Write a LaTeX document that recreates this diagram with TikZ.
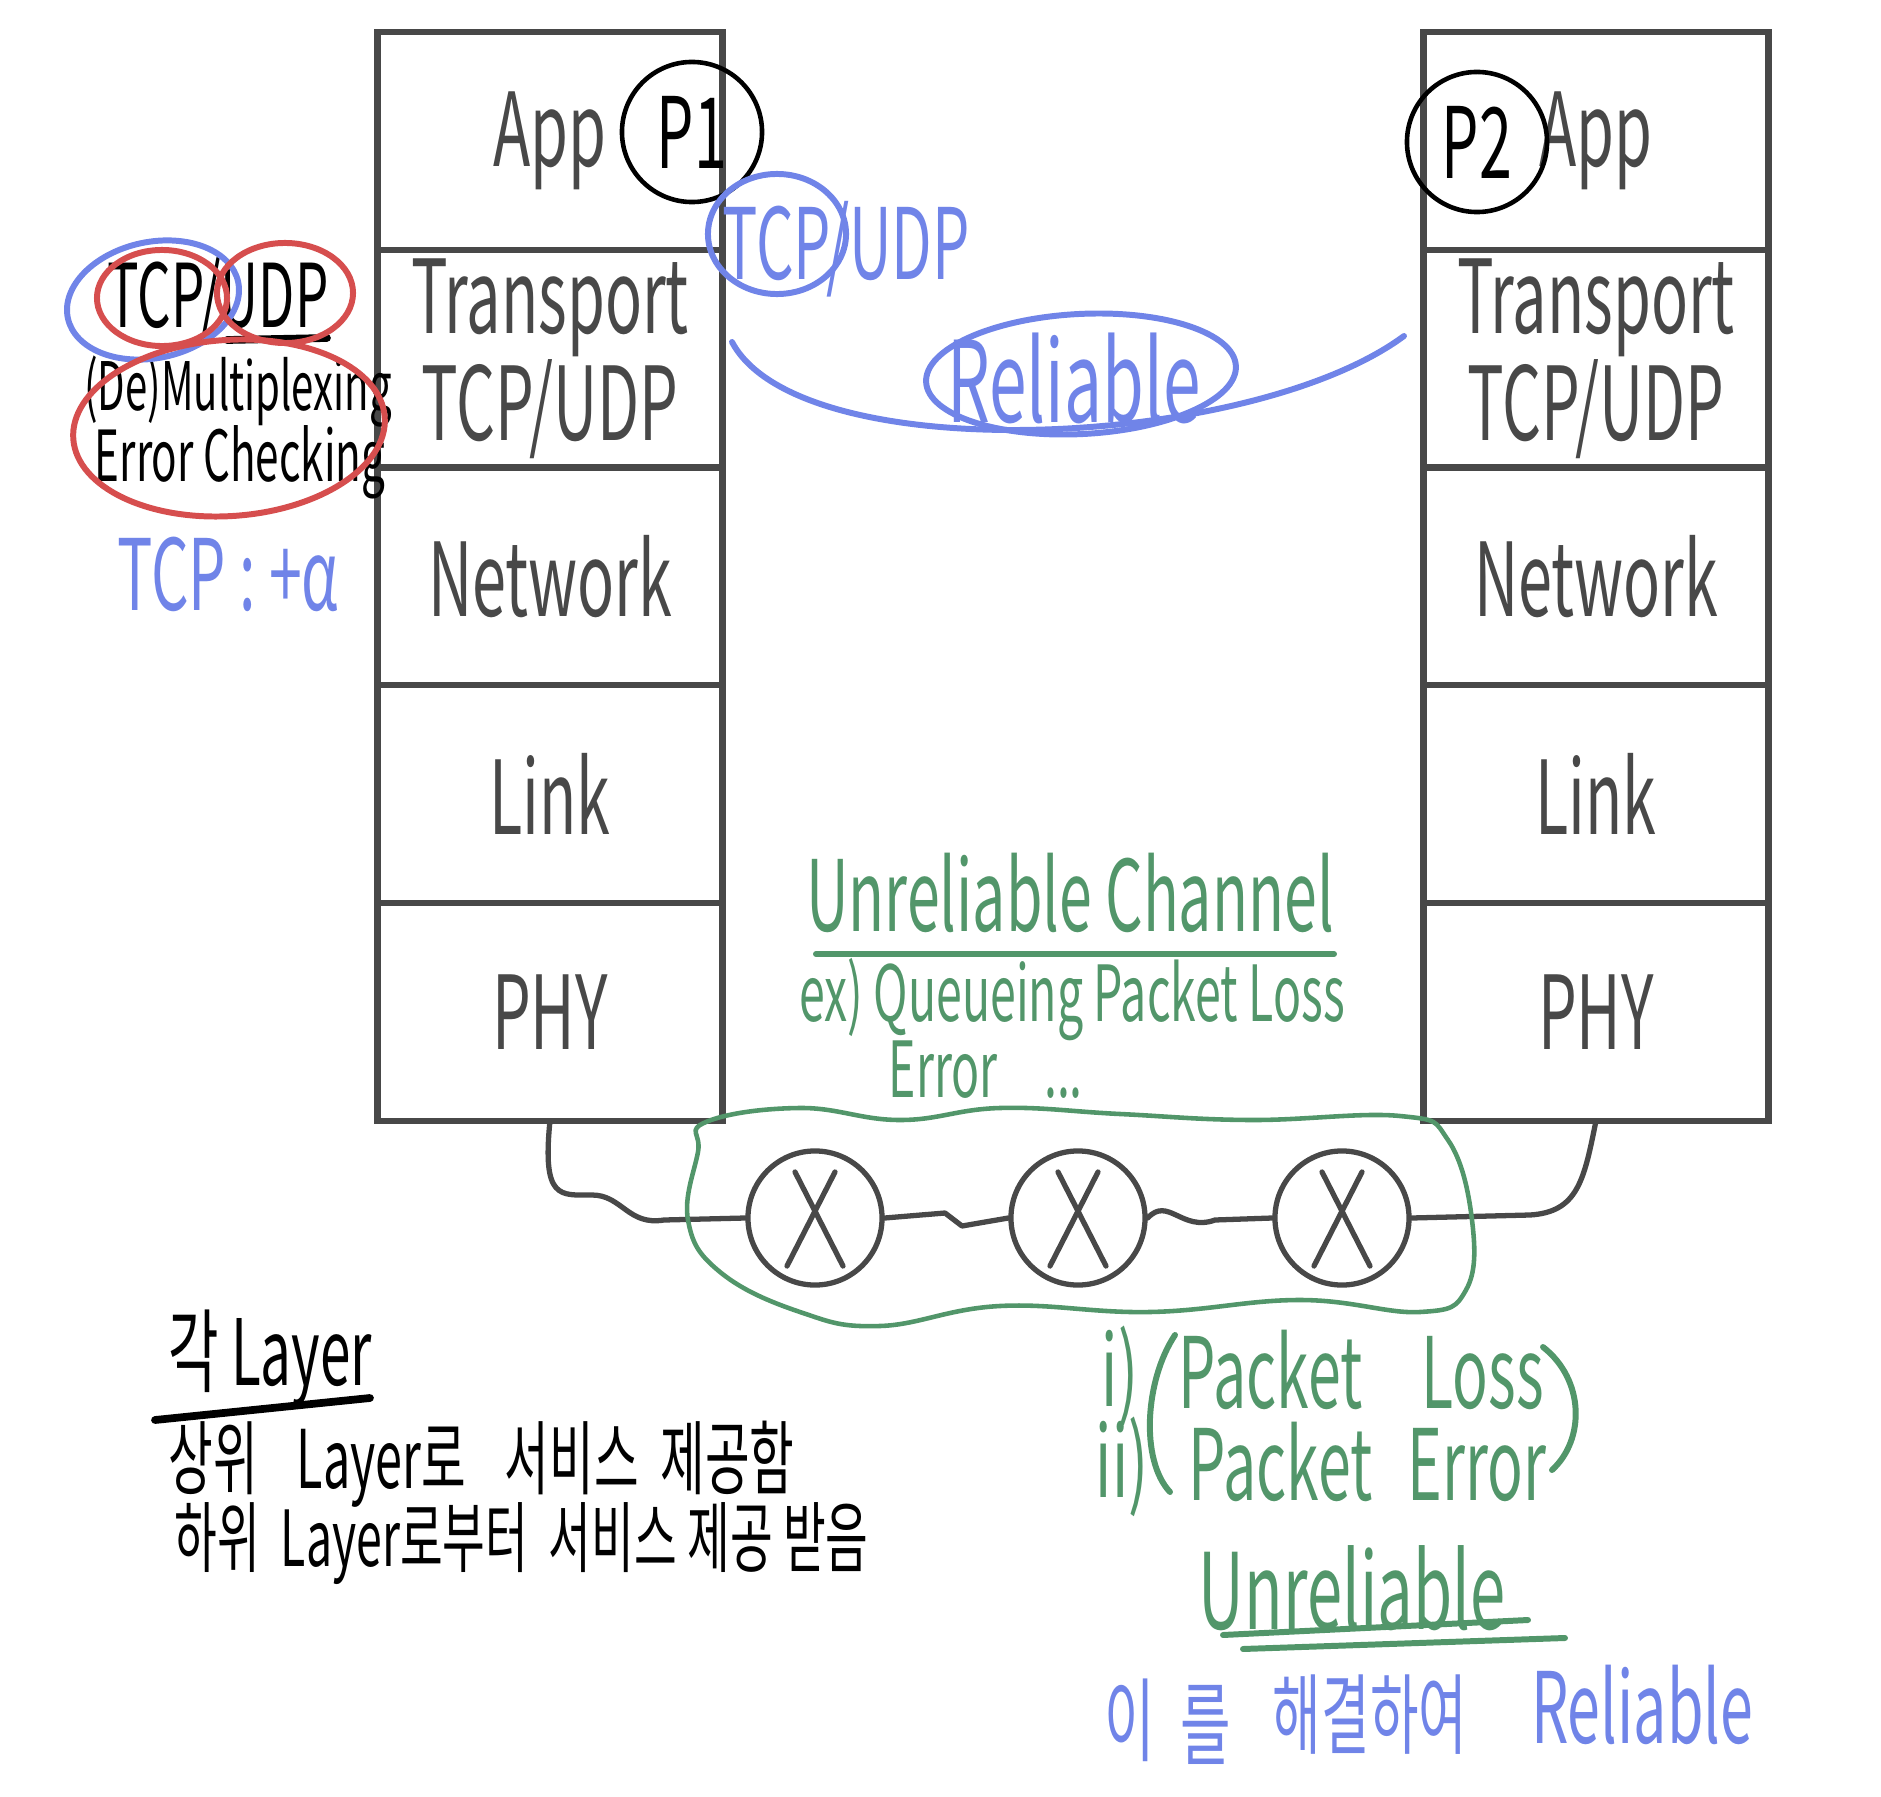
\documentclass[tikz,border=0pt]{standalone}
\usepackage{fontspec}
\setmainfont{Noto Sans CJK KR}
\usepackage{graphicx}
\usetikzlibrary{positioning}
\definecolor{pen}{RGB}{72,72,72}
\definecolor{bluepen}{RGB}{112,132,232}
\definecolor{redpen}{RGB}{214,78,78}
\definecolor{greenpen}{RGB}{82,150,106}
\newcommand{\handw}[1]{\scalebox{0.6}[1]{#1}}

\begin{document}
\begin{tikzpicture}[x=0.01cm, y=-0.01cm,
  layer/.style={draw=pen, line width=1.8pt, minimum width=3.45cm, minimum height=2.176cm,
    inner sep=0pt, outer sep=0pt, text=pen, align=center, font=\fontsize{29}{27}\selectfont},
  proc/.style={circle, draw=black, line width=1.3pt, minimum size=1.4cm, inner sep=0pt,
    font=\fontsize{28}{28}\selectfont},
  hop/.style={circle, draw=pen, line width=1.5pt, minimum size=1.34cm, inner sep=0pt},
  wire/.style={draw=pen, line width=1.5pt, line cap=round, line join=round},
  note/.style={inner sep=0pt, font=\fontsize{#1}{#1}\selectfont},
  ink/.style={line width=1.7pt, line cap=round}]
  \useasboundingbox (0,0) rectangle (1881,1797);
  % left protocol stack
  \node[layer] (lapp) at (550,141) {\handw{App}};
  \node[layer, below=0pt of lapp] (ltrans) {\handw{Transport}\\\handw{TCP/UDP}};
  \node[layer, below=0pt of ltrans] (lnet) {\handw{Network}};
  \node[layer, below=0pt of lnet] (llink) {\handw{Link}};
  \node[layer, below=0pt of llink] (lphy) {\handw{PHY}};
  % right protocol stack
  \node[layer] (rapp) at (1596,141) {\handw{App}};
  \node[layer, below=0pt of rapp] (rtrans) {\handw{Transport}\\\handw{TCP/UDP}};
  \node[layer, below=0pt of rtrans] (rnet) {\handw{Network}};
  \node[layer, below=0pt of rnet] (rlink) {\handw{Link}};
  \node[layer, below=0pt of rlink] (rphy) {\handw{PHY}};
  % processes
  \node[proc] (p1) at (692,132) {\handw{P1}};
  \node[proc] (p2) at (1477,142) {\handw{P2}};
  % routers on the channel
  \node[hop] (x1) at (815,1218) {};
  \node[hop] (x2) at (1078,1218) {};
  \node[hop] (x3) at (1342,1218) {};
  \foreach \n in {x1,x2,x3}
    \draw[wire] ([shift={(-0.2cm,0.46cm)}]\n.center) -- ([shift={(0.28cm,-0.48cm)}]\n.center)
                ([shift={(0.2cm,0.46cm)}]\n.center) -- ([shift={(-0.28cm,-0.48cm)}]\n.center);
  % physical links
  \draw[wire] (lphy.south) .. controls (542,1200) and (560,1195) .. (592,1195)
    .. controls (622,1195) and (628,1226) .. (664,1220) -- (x1.west);
  \draw[wire] (x1.east) -- (945,1213) -- (962,1226) -- (x2.west);
  \draw[wire] (x2.east) .. controls (1168,1196) and (1182,1232) .. (1215,1220) -- (x3.west);
  \draw[wire] (x3.east) -- (1530,1215) .. controls (1578,1212) and (1584,1180) .. (rphy.south);
  % transport layer notes
  \node[note=25] (tcpudp) at (218,300) {\handw{TCP/UDP}};
  \node[note=19] (demux) at (238,392) {\handw{(De)Multiplexing}};
  \node[note=20] (errchk) at (240,462) {\handw{Error Checking}};
  \node[note=28, text=bluepen] (tcpalpha) at (228,574) {\handw{TCP : +α}};
  \draw[ink, black, line width=2.2pt] (227,340) -- (327,338);
  \draw[ink, bluepen] (153,300) ellipse [x radius=0.87cm, y radius=0.58cm, rotate=12];
  \draw[ink, redpen] (162,298) ellipse [x radius=0.65cm, y radius=0.48cm];
  \draw[ink, redpen] (285,293) ellipse [x radius=0.68cm, y radius=0.5cm];
  \draw[ink, redpen] (229,428) ellipse [x radius=1.56cm, y radius=0.88cm, rotate=4];
  % reliable transport
  \node[note=28, text=bluepen] (tcpudpb) at (846,249) {\handw{TCP/UDP}};
  \draw[ink, bluepen] (777,234) ellipse [x radius=0.69cm, y radius=0.6cm];
  \node[note=32, text=bluepen] (reliable) at (1074,378) {\handw{Reliable}};
  \draw[ink, bluepen] (1081,374) ellipse [x radius=1.55cm, y radius=0.6cm, rotate=3];
  \draw[ink, bluepen] (732,342) .. controls (800,470) and (1250,450) .. (1404,336);
  % unreliable channel
  \node[note=28, text=greenpen] (unrelch) at (1070,893) {\handw{Unreliable Channel}};
  \draw[ink, greenpen] (816,954) -- (1334,954);
  \node[note=22, text=greenpen] (examples) at (1072,1000) {\handw{ex) Queueing Packet Loss}};
  \node[note=22, text=greenpen, anchor=west] (exerr) at (888,1070) {\handw{Error\quad ...}};
  \draw[ink, greenpen, line width=1.3pt] plot[smooth cycle, tension=0.7] coordinates {
    (706,1122) (800,1108) (900,1120) (1000,1108) (1120,1114) (1250,1120) (1400,1116)
    (1448,1140) (1472,1220) (1466,1290) (1420,1312) (1300,1300) (1150,1312) (1000,1306)
    (880,1326) (800,1312) (720,1272) (688,1220) (698,1152)};
  % packet loss / error
  \node[note=28, text=greenpen] (first) at (1120,1376) {\handw{i)}};
  \node[note=28, text=greenpen] (second) at (1122,1467) {\handw{ii)}};
  \node[note=28, text=greenpen, anchor=west] (ploss) at (1178,1370) {\handw{Packet\quad Loss}};
  \node[note=28, text=greenpen, anchor=west] (perr) at (1188,1462) {\handw{Packet\hspace{0.6em}Error}};
  \draw[ink, greenpen] (1175,1335) .. controls (1145,1380) and (1140,1460) .. (1170,1492);
  \draw[ink, greenpen] (1543,1347) .. controls (1585,1380) and (1585,1440) .. (1552,1470);
  \node[note=30, text=greenpen] (unrel) at (1352,1588) {\handw{Unreliable}};
  \draw[ink, greenpen] (1223,1635) -- (1528,1620);
  \draw[ink, greenpen] (1243,1649) -- (1565,1638);
  % fix it
  \node[note=26, text=bluepen] (this) at (1130,1720) {\handw{이}};
  \node[note=26, text=bluepen] (obj) at (1206,1725) {\handw{를}};
  \node[note=25, text=bluepen] (solve) at (1370,1715) {\handw{해결하여}};
  \node[note=28, text=bluepen] (reliable2) at (1642,1705) {\handw{Reliable}};
  % each layer
  \node[note=26] (each) at (270,1358) {\handw{각 Layer}};
  \draw[ink, black, line width=2.2pt] (155,1420) -- (370,1398);
  \node[note=23, anchor=west] (upper) at (168,1464) {\handw{상위\hspace{0.8em}Layer로\hspace{0.8em}서비스\ \ 제공함}};
  \node[note=22, anchor=west] (lower) at (174,1544) {\handw{하위\ \ Layer로부터\ \ 서비스\ 제공\ 받음}};
\end{tikzpicture}
\end{document}
